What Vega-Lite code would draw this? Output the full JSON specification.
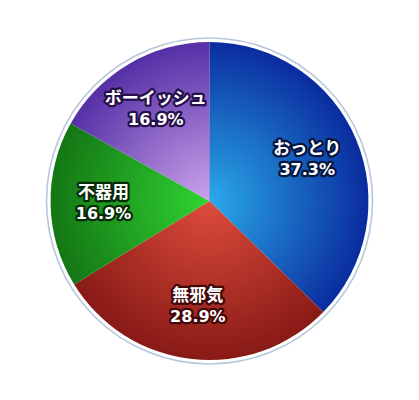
{
  "$schema": "https://vega.github.io/schema/vega-lite/v6.json",
  "description": "Pie chart of personality types with radial gradient slices.",
  "autosize": {"type": "fit", "contains": "padding"},
  "width": 419,
  "height": 400,
  "padding": {"top": 2, "bottom": 0, "left": 0, "right": 0},
  "data": {
    "values": [
      {"name": "おっとり", "share": 0.373},
      {"name": "無邪気", "share": 0.289},
      {"name": "不器用", "share": 0.169},
      {"name": "ボーイッシュ", "share": 0.169}
    ]
  },
  "layer": [
    {
      "data": {"values": [{}]},
      "mark": {"type": "arc", "theta": 0, "theta2": 6.2832, "outerRadius": 163, "fill": "white", "stroke": "#b6c7dc", "strokeWidth": 1.6},
      "encoding": {}
    },
    {
      "transform": [
        {"window": [{"op": "row_number", "as": "idx"}]},
        {"stack": "share", "groupby": [], "sort": [{"field": "idx", "order": "ascending"}], "as": ["v0", "v1"]}
      ],
      "layer": [
        {
          "transform": [{"filter": {"field": "name", "equal": "おっとり"}}],
          "mark": {
            "type": "arc", "outerRadius": 159,
            "fill": {"gradient": "radial", "x1": 0.2055, "y1": 0.589, "r1": 0, "x2": 0.2055, "y2": 0.589, "r2": 0.589,
              "stops": [{"offset": 0, "color": "#2aaaea"}, {"offset": 1, "color": "#0a2c9e"}]}
          },
          "encoding": {
            "theta": {"field": "v0", "type": "quantitative", "scale": {"domain": [0, 1]}},
            "theta2": {"field": "v1"}
          }
        },
        {
          "transform": [{"filter": {"field": "name", "equal": "無邪気"}}],
          "mark": {
            "type": "arc", "outerRadius": 159,
            "fill": {"gradient": "radial", "x1": 0.543, "y1": 0.181, "r1": 0, "x2": 0.543, "y2": 0.181, "r2": 0.638,
              "stops": [{"offset": 0, "color": "#de4c3c"}, {"offset": 1, "color": "#881a16"}]}
          },
          "encoding": {
            "theta": {"field": "v0", "type": "quantitative", "scale": {"domain": [0, 1]}},
            "theta2": {"field": "v1"}
          }
        },
        {
          "transform": [{"filter": {"field": "name", "equal": "不器用"}}],
          "mark": {
            "type": "arc", "outerRadius": 159,
            "fill": {"gradient": "radial", "x1": 0.994, "y1": 0.481, "r1": 0, "x2": 0.994, "y2": 0.481, "r2": 0.988,
              "stops": [{"offset": 0, "color": "#30d432"}, {"offset": 1, "color": "#147614"}]}
          },
          "encoding": {
            "theta": {"field": "v0", "type": "quantitative", "scale": {"domain": [0, 1]}},
            "theta2": {"field": "v1"}
          }
        },
        {
          "transform": [{"filter": {"field": "name", "equal": "ボーイッシュ"}}],
          "mark": {
            "type": "arc", "outerRadius": 159,
            "fill": {"gradient": "radial", "x1": 0.937, "y1": 1.0, "r1": 0, "x2": 0.937, "y2": 1.0, "r2": 1.0,
              "stops": [{"offset": 0, "color": "#cca4ec"}, {"offset": 1, "color": "#5530a6"}]}
          },
          "encoding": {
            "theta": {"field": "v0", "type": "quantitative", "scale": {"domain": [0, 1]}},
            "theta2": {"field": "v1"}
          }
        },
        {
          "mark": {"type": "text", "radius": 106, "dy": -10.5, "font": "Noto Sans CJK JP", "fontWeight": "bold", "fontSize": 17, "strokeWidth": 4.5, "strokeJoin": "round", "baseline": "middle"},
          "encoding": {
            "theta": {"field": "share", "type": "quantitative", "stack": true, "scale": {"domain": [0, 1]}},
            "order": {"field": "idx"},
            "text": {"field": "name"},
            "fill": {"field": "name", "scale": {"domain": ["おっとり", "無邪気", "不器用", "ボーイッシュ"], "range": ["#07163f", "#420808", "#072b07", "#26104a"]}, "legend": null},
            "stroke": {"field": "name", "scale": {"domain": ["おっとり", "無邪気", "不器用", "ボーイッシュ"], "range": ["#07163f", "#420808", "#072b07", "#26104a"]}, "legend": null}
          }
        },
        {
          "mark": {"type": "text", "radius": 106, "dy": 10.5, "font": "DejaVu Sans", "fontWeight": "bold", "fontSize": 16, "strokeWidth": 4.5, "strokeJoin": "round", "baseline": "middle"},
          "encoding": {
            "theta": {"field": "share", "type": "quantitative", "stack": true, "scale": {"domain": [0, 1]}},
            "order": {"field": "idx"},
            "text": {"field": "share", "type": "quantitative", "format": ".1%"},
            "fill": {"field": "name", "scale": {"domain": ["おっとり", "無邪気", "不器用", "ボーイッシュ"], "range": ["#07163f", "#420808", "#072b07", "#26104a"]}, "legend": null},
            "stroke": {"field": "name", "scale": {"domain": ["おっとり", "無邪気", "不器用", "ボーイッシュ"], "range": ["#07163f", "#420808", "#072b07", "#26104a"]}, "legend": null}
          }
        },
        {
          "mark": {"type": "text", "radius": 106, "dy": -10.5, "font": "Noto Sans CJK JP", "fontWeight": "bold", "fontSize": 17, "fill": "white", "baseline": "middle"},
          "encoding": {
            "theta": {"field": "share", "type": "quantitative", "stack": true, "scale": {"domain": [0, 1]}},
            "order": {"field": "idx"},
            "text": {"field": "name"}
          }
        },
        {
          "mark": {"type": "text", "radius": 106, "dy": 10.5, "font": "DejaVu Sans", "fontWeight": "bold", "fontSize": 16, "fill": "white", "baseline": "middle"},
          "encoding": {
            "theta": {"field": "share", "type": "quantitative", "stack": true, "scale": {"domain": [0, 1]}},
            "order": {"field": "idx"},
            "text": {"field": "share", "type": "quantitative", "format": ".1%"}
          }
        }
      ]
    }
  ],
  "config": {"view": {"stroke": null}}
}
